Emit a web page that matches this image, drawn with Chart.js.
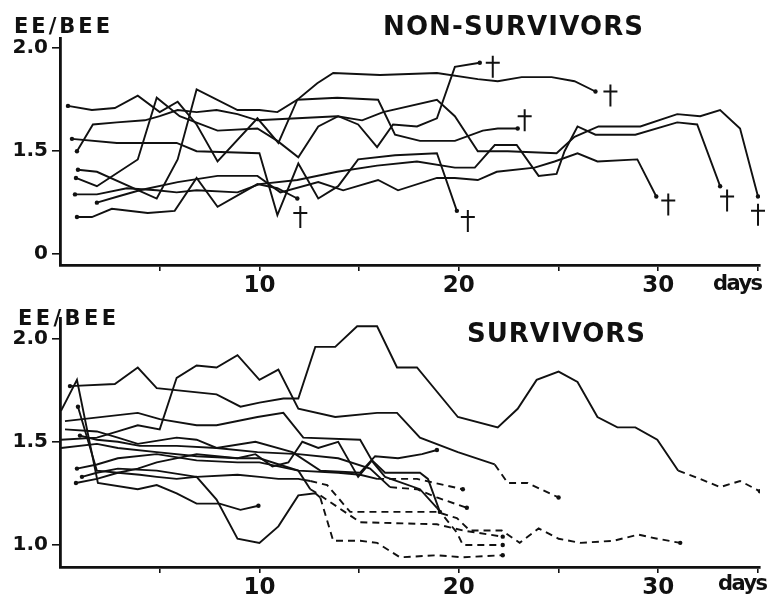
<!DOCTYPE html>
<html>
<head>
<meta charset="utf-8">
<script src="https://cdn.jsdelivr.net/npm/chart.js@4.4.0/dist/chart.umd.min.js"></script>
<style>
  html, body { margin: 0; padding: 0; background: #fff; }
  #wrap { position: relative; width: 772px; height: 601px; }
  canvas { position: absolute; left: 0; }
</style>
</head>
<body>
<div id="wrap">
  <canvas id="topChart" width="772" height="300" style="top:0"></canvas>
  <canvas id="bottomChart" width="772" height="301" style="top:300px"></canvas>
</div>
<script>
// --- tick labels ---
const xTicks = [5, 10, 15, 20, 25, 30, 35];
const xLabeled = [10, 20, 30];
const topYTicks = [1.0, 1.5, 2.0];
const topYLabels = ["0", "1.5", "2.0"];
const botYTicks = [1.0, 1.5, 2.0];
const botYLabels = ["1.0", "1.5", "2.0"];

// --- NON-SURVIVORS (day, EE/BEE) ---
const nsA_days = [0.4, 1.6, 2.75, 3.9, 5.0, 5.9, 6.85, 7.9, 9.9, 10.95, 11.9, 12.9, 13.7, 16.05, 18.9, 20.95, 21.95, 23.15, 24.65, 25.8, 26.85];
const nsA_vals = [1.72, 1.70, 1.71, 1.77, 1.69, 1.74, 1.63, 1.45, 1.66, 1.54, 1.75, 1.83, 1.88, 1.87, 1.88, 1.85, 1.84, 1.86, 1.86, 1.84, 1.79];
const nsB_days = [0.8, 1.85, 3.9, 4.85, 6.0, 7.9, 9.9, 10.9, 11.95, 12.95, 13.95, 14.95, 15.9, 16.7, 17.9, 18.9, 19.8, 21.05];
const nsB_vals = [1.37, 1.33, 1.46, 1.76, 1.67, 1.60, 1.61, 1.55, 1.47, 1.62, 1.67, 1.63, 1.52, 1.63, 1.62, 1.66, 1.91, 1.93];
const nsC_days = [0.6, 2.85, 5.85, 6.85, 10.0, 10.9, 11.95, 12.95, 13.95, 14.95, 16.8, 18.9, 19.9];
const nsC_vals = [1.56, 1.54, 1.54, 1.50, 1.49, 1.19, 1.44, 1.27, 1.33, 1.46, 1.48, 1.49, 1.21];
const nsD_days = [0.9, 1.85, 4.85, 5.9, 6.85, 8.9, 10.0, 10.9, 11.9, 13.9, 15.95, 16.8, 18.05, 19.8, 21.2, 21.95, 22.95];
const nsD_vals = [1.41, 1.40, 1.27, 1.46, 1.80, 1.70, 1.70, 1.69, 1.75, 1.76, 1.75, 1.58, 1.55, 1.55, 1.60, 1.61, 1.61];
const nsE_days = [0.85, 1.65, 2.85, 4.25, 5.0, 5.9, 6.85, 7.85, 8.9, 9.9, 11.9, 13.9, 15.15, 16.2, 18.9, 19.8, 20.95, 22.45, 24.9, 25.8, 27.0, 29.1, 30.95, 32.1, 33.1, 34.1, 35.0];
const nsE_vals = [1.50, 1.63, 1.64, 1.65, 1.67, 1.70, 1.69, 1.70, 1.68, 1.65, 1.66, 1.67, 1.65, 1.69, 1.75, 1.67, 1.50, 1.50, 1.49, 1.57, 1.62, 1.62, 1.68, 1.67, 1.70, 1.61, 1.28];
const nsF_days = [0.85, 1.6, 2.6, 4.4, 5.75, 6.85, 7.9, 9.9, 10.9, 11.9];
const nsF_vals = [1.18, 1.18, 1.22, 1.20, 1.21, 1.37, 1.23, 1.34, 1.32, 1.27];
const nsG_days = [0.75, 1.85, 3.35, 4.85, 5.85, 6.85, 8.9, 10.0, 11.9, 13.9, 15.9, 17.9, 19.8, 20.8, 21.8, 22.9, 24.0, 24.9, 25.3, 25.95, 26.85, 28.85, 30.95, 31.95, 33.1];
const nsG_vals = [1.29, 1.29, 1.32, 1.31, 1.30, 1.31, 1.30, 1.34, 1.36, 1.40, 1.43, 1.45, 1.42, 1.42, 1.53, 1.53, 1.38, 1.39, 1.50, 1.62, 1.58, 1.58, 1.64, 1.63, 1.33];
const nsJ_days = [1.85, 2.9, 4.0, 5.9, 7.9, 9.9, 11.05, 12.95, 14.2, 15.95, 16.95, 18.9, 19.8, 20.95, 21.9, 23.8, 24.8, 25.95, 26.95, 28.95, 29.9];
const nsJ_vals = [1.25, 1.28, 1.31, 1.35, 1.38, 1.38, 1.30, 1.35, 1.31, 1.36, 1.31, 1.37, 1.37, 1.36, 1.40, 1.42, 1.45, 1.49, 1.45, 1.46, 1.28];

// crosses (death)
const crossDays = [12.05, 20.45, 21.7, 27.6, 23.3, 30.5, 33.45, 35.0];
const crossVals = [1.20, 1.18, 1.93, 1.79, 1.67, 1.26, 1.28, 1.21];

// --- SURVIVORS (day, EE/BEE); dashed from index ---
const sA_days = [0.5, 2.75, 3.9, 4.85, 7.85, 9.05, 10.0, 11.2, 11.95, 12.8, 13.8, 14.9, 15.9, 16.9, 17.9, 19.95, 21.95, 22.95, 23.9, 25.0, 25.95, 26.95, 27.95, 28.85, 29.95, 31.0, 32.1, 33.1, 34.1, 35.1];
const sA_vals = [1.77, 1.78, 1.86, 1.76, 1.73, 1.67, 1.69, 1.71, 1.71, 1.96, 1.96, 2.06, 2.06, 1.86, 1.86, 1.62, 1.57, 1.66, 1.80, 1.84, 1.79, 1.62, 1.57, 1.57, 1.51, 1.36, 1.32, 1.28, 1.31, 1.26];
const sB_days = [0.05, 1.85, 2.9, 3.9, 5.0, 5.85, 6.85, 7.85, 8.9, 10.0, 10.95, 11.95, 13.8, 15.9, 16.9, 18.05, 19.95, 21.8, 22.45, 23.45, 25.0];
const sB_vals = [1.51, 1.52, 1.55, 1.58, 1.56, 1.81, 1.87, 1.86, 1.92, 1.80, 1.85, 1.66, 1.62, 1.64, 1.64, 1.52, 1.45, 1.39, 1.30, 1.30, 1.23];
const sC_days = [0.05, 0.85, 1.9, 3.9, 4.85, 5.85, 6.85, 8.0, 9.05, 9.95];
const sC_vals = [1.65, 1.80, 1.30, 1.27, 1.29, 1.25, 1.20, 1.20, 1.17, 1.19];
const sD_days = [0.9, 1.85, 2.9, 4.0, 4.85, 5.85, 6.85, 7.85, 8.9, 10.0, 10.95, 11.95, 12.8, 13.05, 13.7, 15.05, 15.9, 17.05, 18.9, 20.2, 22.2];
const sD_vals = [1.67, 1.36, 1.35, 1.34, 1.33, 1.32, 1.33, 1.22, 1.03, 1.01, 1.09, 1.24, 1.25, 1.23, 1.02, 1.02, 1.01, 0.94, 0.95, 0.94, 0.95];
const sE_days = [0.25, 3.9, 5.0, 6.85, 7.85, 9.9, 11.2, 12.2, 15.05, 15.7, 16.3, 18.05, 18.9, 19.9, 20.2, 22.2];
const sE_vals = [1.60, 1.64, 1.61, 1.58, 1.58, 1.62, 1.64, 1.52, 1.51, 1.40, 1.33, 1.27, 1.18, 1.06, 1.00, 1.00];
const sF_days = [0.25, 1.85, 2.9, 3.9, 5.85, 6.85, 7.85, 9.8, 11.65, 13.05, 15.05, 15.8, 16.95, 18.15, 18.9];
const sF_vals = [1.56, 1.55, 1.52, 1.49, 1.52, 1.51, 1.47, 1.50, 1.45, 1.36, 1.35, 1.43, 1.42, 1.44, 1.46];
const sG_days = [0.05, 1.85, 2.9, 4.85, 6.85, 8.9, 9.8, 10.65, 11.45, 12.15, 12.95, 13.95, 14.95, 15.65, 16.3, 18.05, 18.45, 19.05];
const sG_vals = [1.47, 1.49, 1.47, 1.45, 1.43, 1.42, 1.44, 1.38, 1.40, 1.50, 1.47, 1.50, 1.33, 1.41, 1.35, 1.35, 1.32, 1.16];
const sH_days = [1.0, 1.85, 2.9, 4.0, 5.85, 7.85, 9.9, 11.95, 13.95, 15.55, 16.55, 17.9, 18.9, 20.4];
const sH_vals = [1.53, 1.51, 1.50, 1.48, 1.48, 1.47, 1.45, 1.44, 1.42, 1.37, 1.28, 1.27, 1.23, 1.18];
const sI_days = [0.85, 1.85, 2.9, 4.85, 6.85, 8.9, 10.0, 11.95, 13.95, 15.05, 15.9, 17.9, 20.2];
const sI_vals = [1.37, 1.39, 1.42, 1.44, 1.41, 1.40, 1.40, 1.36, 1.35, 1.34, 1.32, 1.32, 1.27];
const sJ_days = [1.1, 1.85, 2.9, 4.85, 6.85, 8.9, 10.0, 10.95, 11.95, 12.55, 13.4, 14.55, 18.9, 19.9, 20.55, 22.15, 23.05, 24.0, 25.0, 26.1, 27.75, 29.0, 29.95, 31.1];
const sJ_vals = [1.33, 1.35, 1.37, 1.36, 1.33, 1.34, 1.33, 1.32, 1.32, 1.31, 1.29, 1.16, 1.16, 1.13, 1.07, 1.07, 1.01, 1.08, 1.03, 1.01, 1.02, 1.05, 1.03, 1.01];
const sK_days = [0.8, 1.85, 2.9, 3.9, 4.85, 6.85, 8.9, 10.0, 11.95, 12.55, 12.9, 15.05, 18.9, 20.2, 22.2];
const sK_vals = [1.30, 1.32, 1.35, 1.37, 1.40, 1.44, 1.42, 1.42, 1.36, 1.27, 1.25, 1.11, 1.10, 1.07, 1.04];

const INK = "#111";
const FONT = '"DejaVu Sans", "Liberation Sans", sans-serif';

const nonSurvivors = [
  [nsA_days, nsA_vals], [nsB_days, nsB_vals], [nsC_days, nsC_vals], [nsD_days, nsD_vals],
  [nsE_days, nsE_vals], [nsF_days, nsF_vals], [nsG_days, nsG_vals], [nsJ_days, nsJ_vals]
];
const survivors = [
  [sA_days, sA_vals, 25], [sB_days, sB_vals, 17], [sC_days, sC_vals, null], [sD_days, sD_vals, 13],
  [sE_days, sE_vals, 12], [sF_days, sF_vals, null], [sG_days, sG_vals, null], [sH_days, sH_vals, 10],
  [sI_days, sI_vals, 10], [sJ_days, sJ_vals, 9], [sK_days, sK_vals, 9]
];

function lineDataset(days, vals, dashFrom) {
  const last = days.length - 1;
  return {
    data: days.map((d, i) => ({ x: d, y: vals[i] })),
    borderColor: INK,
    borderWidth: 1.9,
    tension: 0,
    fill: false,
    pointRadius: ctx => {
      const i = ctx.dataIndex;
      if (i === last) return 2.2;
      if (i === 0 && days[0] > 0.3) return 2.2;
      return 0;
    },
    pointBackgroundColor: INK,
    pointBorderWidth: 0,
    segment: {
      borderDash: ctx => (dashFrom != null && ctx.p0DataIndex >= dashFrom) ? [7, 5] : undefined
    }
  };
}

// write text stretched to a given width
function drawFit(ctx, text, left, baseline, width, size) {
  ctx.save();
  ctx.font = "bold " + size + "px " + FONT;
  ctx.letterSpacing = "0px";
  const w = ctx.measureText(text).width;
  const ls = (width - w) / (text.length - 1);
  ctx.letterSpacing = ls + "px";
  ctx.fillStyle = INK;
  ctx.textAlign = "left";
  ctx.textBaseline = "alphabetic";
  ctx.fillText(text, left, baseline);
  ctx.restore();
}

function makeChart(id, datasets, cfg) {
  return new Chart(document.getElementById(id), {
    type: "line",
    data: { datasets: datasets },
    options: {
      responsive: false,
      animation: false,
      layout: { padding: { top: cfg.padTop, right: 12, left: 0, bottom: 0 } },
      plugins: { legend: { display: false }, tooltip: { enabled: false } },
      scales: {
        x: {
          type: "linear",
          min: 0,
          max: 35.1,
          afterFit: s => { s.height = cfg.xHeight; },
          afterBuildTicks: s => { s.ticks = xTicks.map(v => ({ value: v })); },
          ticks: {
            autoSkip: false,
            maxRotation: 0,
            padding: 1,
            color: INK,
            font: { family: FONT, size: 23, weight: "bold" },
            callback: v => xLabeled.includes(v) ? String(v) : ""
          },
          grid: { drawOnChartArea: false, drawTicks: true, tickLength: 6, color: INK, lineWidth: 1.6 },
          border: { color: INK, width: 2.8 }
        },
        y: {
          type: "linear",
          min: cfg.yMin,
          max: cfg.yMax,
          afterFit: s => { s.width = 60; },
          afterBuildTicks: s => { s.ticks = cfg.yTicks.map(v => ({ value: v })); },
          ticks: {
            padding: 4,
            color: INK,
            font: { family: FONT, size: 20, weight: "bold" },
            callback: v => cfg.yLabels[cfg.yTicks.indexOf(v)]
          },
          grid: { drawOnChartArea: false, drawTicks: true, tickLength: 8, color: INK, lineWidth: 1.6 },
          border: { color: INK, width: 2.8 }
        }
      }
    },
    plugins: [{
      id: "labels",
      afterDraw: chart => cfg.draw(chart, chart.ctx)
    }]
  });
}

makeChart("topChart", nonSurvivors.map(s => lineDataset(s[0], s[1], null)), {
  padTop: 38, xHeight: 35, yMin: 0.947, yMax: 2.05,
  yTicks: topYTicks, yLabels: topYLabels,
  draw: (chart, ctx) => {
    drawFit(ctx, "EE/BEE", 14, 33, 96, 21);
    drawFit(ctx, "NON-SURVIVORS", 383, 35, 260, 26);
    drawFit(ctx, "days", 713, 290, 50, 21);
    const xs = chart.scales.x, ys = chart.scales.y;
    ctx.save();
    ctx.strokeStyle = INK;
    ctx.lineWidth = 2;
    crossDays.forEach((d, i) => {
      const px = xs.getPixelForValue(d), py = ys.getPixelForValue(crossVals[i]);
      ctx.beginPath();
      ctx.moveTo(px, py - 7); ctx.lineTo(px, py + 15);
      ctx.moveTo(px - 7, py); ctx.lineTo(px + 7, py);
      ctx.stroke();
    });
    ctx.restore();
  }
});

makeChart("bottomChart", survivors.map(s => lineDataset(s[0], s[1], s[2])), {
  padTop: 18, xHeight: 34, yMin: 0.893, yMax: 2.1,
  yTicks: botYTicks, yLabels: botYLabels,
  draw: (chart, ctx) => {
    drawFit(ctx, "EE/BEE", 18, 25, 98, 21);
    drawFit(ctx, "SURVIVORS", 467, 42, 178, 26);
    drawFit(ctx, "days", 718, 290, 50, 21);
  }
});
</script>
</body>
</html>
